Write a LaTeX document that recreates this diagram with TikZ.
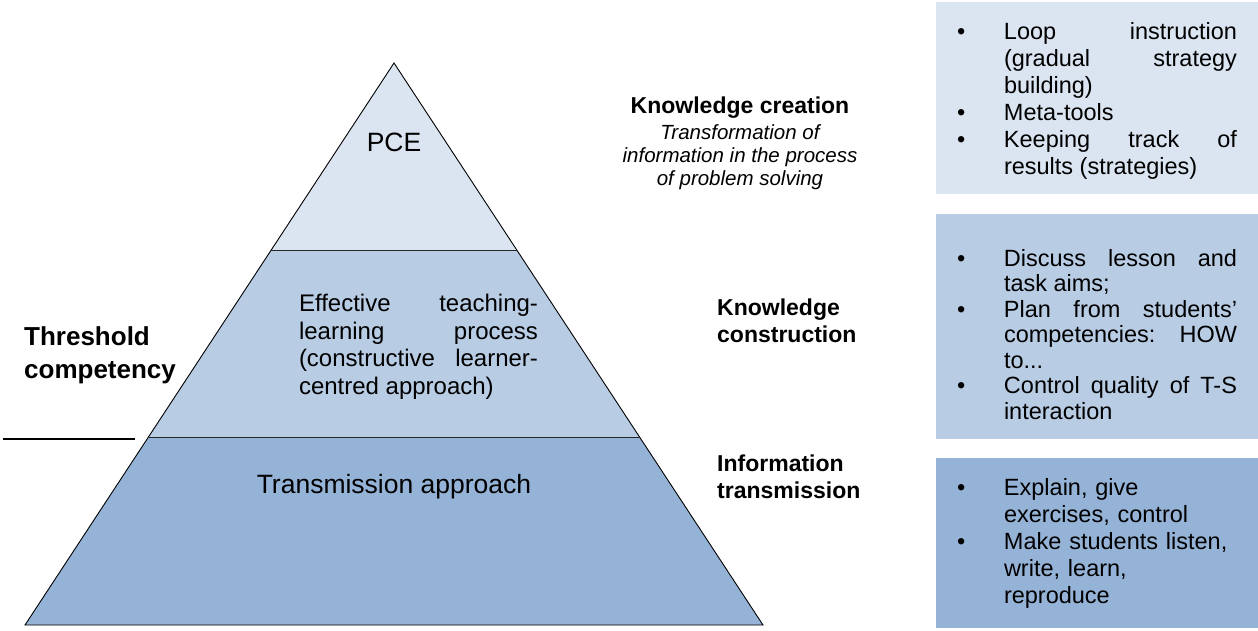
\documentclass[tikz,border=0pt]{standalone}
\usepackage{fontspec}
\setmainfont{Liberation Sans}
\usetikzlibrary{calc, positioning}

\definecolor{pceblue}{HTML}{DBE5F1}
\definecolor{midblue}{HTML}{B8CCE4}
\definecolor{lowblue}{HTML}{95B3D7}

% bullet item for the side boxes
\newcommand{\bitem}{\par\noindent\llap{\makebox[44pt][l]{\hspace{-3pt}\textbullet}}}

\begin{document}
\begin{tikzpicture}[
        x=1pt, y=-1pt,
        every node/.style={inner sep=0pt},
        outline/.style={black, line width=0.9pt},
        divider/.style={black!85, line width=1.5pt},
        pyrtext/.style={font=\fontsize{26.5}{30}\selectfont},
        leveltitle/.style={font=\bfseries\fontsize{23}{27}\selectfont, align=left, anchor=west},
        infobox/.style={minimum width=322pt, inner sep=0pt},
        boxtext/.style={font=\fontsize{23.5}{27}\selectfont, text width=233pt, anchor=west}
    ]
    \useasboundingbox (0,0) rectangle (1258,630);

% ---------- pyramid ----------
    \coordinate (apex) at (394,63);
    \coordinate (bl) at (25,625);
    \coordinate (br) at (763,625);
    \coordinate (l1) at ($(apex)!1/3!(bl)$);
    \coordinate (r1) at ($(apex)!1/3!(br)$);
    \coordinate (l2) at ($(apex)!2/3!(bl)$);
    \coordinate (r2) at ($(apex)!2/3!(br)$);

    \fill[pceblue] (apex) -- (r1) -- (l1) -- cycle;
    \fill[midblue] (l1) -- (r1) -- (r2) -- (l2) -- cycle;
    \fill[lowblue] (l2) -- (r2) -- (br) -- (bl) -- cycle;
    \draw[outline] (apex) -- (br) -- (bl) -- cycle;
    \draw[divider] (l1) -- (r1);
    \draw[divider] (l2) -- (r2);

    \node[pyrtext] (pce) at (394,142) {PCE};
    \node[font=\fontsize{24}{27.5}\selectfont, text width=239pt, align=justify] (etlp) at (418.5,347)
    {Effective teaching-\linebreak learning process\linebreak (constructive learner-\linebreak centred approach)};
    \node[pyrtext] (trans) at (394,487) {Transmission approach};

% ---------- threshold ----------
    \node[font=\bfseries\fontsize{26}{33}\selectfont, align=left, anchor=west] (thresh) at (24,355)
    {Threshold\\competency};
    \coordinate (tha) at (3,439);
    \coordinate (thb) at (135,439);
    \draw[divider, black] (tha) -- (thb);

% ---------- level titles ----------
    \node[font=\bfseries\fontsize{23}{26}\selectfont] (creatitle) at (740,108) {Knowledge creation};
    \node[font=\itshape\fontsize{20.5}{23}\selectfont, align=center] (creadesc) at (740,157)
    {Transformation of\\information in the process\\of problem solving};
    \node[leveltitle] (constitle) at (717,321) {Knowledge\\construction};
    \node[leveltitle] (transtitle) at (717,477) {Information\\transmission};

% ---------- RIGHT: boxes ----------
    \node[infobox, fill=pceblue, minimum height=192pt] (creabox) at (1097,98) {};
    \node[infobox, fill=midblue, minimum height=225pt] (consbox) at (1097,326.5) {};
    \node[infobox, fill=lowblue, minimum height=170pt] (transbox) at (1097,543) {};

    \node[boxtext, align=justify] (creatxt) at ([xshift=68pt, yshift=2pt]creabox.west) {%
        \bitem Loop instruction\linebreak (gradual strategy\linebreak building)
        \bitem Meta-tools
        \bitem Keeping track of\linebreak results (strategies)};
    \node[boxtext, align=justify, font=\fontsize{23.5}{25.5}\selectfont] (constxt) at ([xshift=68pt, yshift=-3.5pt]consbox.west) {%
        \bitem Discuss lesson and\linebreak task aims;
        \bitem Plan from students'\linebreak competencies: HOW\linebreak to...
        \bitem Control quality of T-S\linebreak interaction};
    \node[boxtext, align=left] (transtxt) at ([xshift=68pt, yshift=5pt]transbox.west) {%
        \bitem Explain, give\newline exercises, control
        \bitem Make students listen,\newline write, learn,\newline reproduce};

\end{tikzpicture}
\end{document}
